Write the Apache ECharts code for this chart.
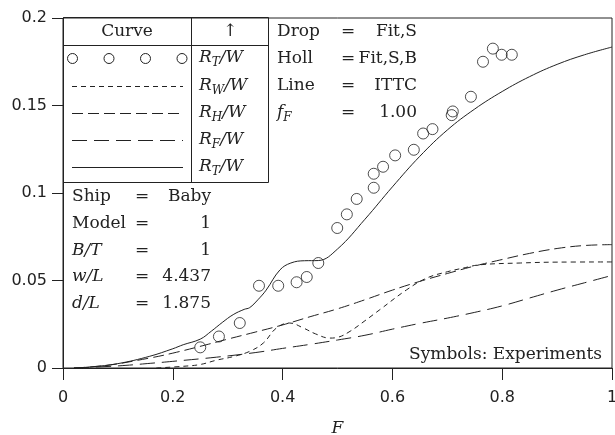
<!DOCTYPE html>
<html>
<head>
<meta charset="utf-8">
<script src="https://cdn.jsdelivr.net/npm/echarts@6/dist/echarts.min.js"></script>
<style>
    html, body { margin: 0; padding: 0; background: #fff; }
    #chart { width: 615px; height: 435px; }
</style>
</head>
<body>
<div id="chart"></div>
<script>
// experiments (circles)
const expF = [0.250, 0.284, 0.322, 0.357, 0.392, 0.4255, 0.444, 0.465, 0.4995, 0.517, 0.535,
    0.566, 0.566, 0.583, 0.605, 0.639, 0.656, 0.673, 0.708, 0.710, 0.743, 0.765, 0.783, 0.799, 0.8175];
const expR = [0.0118, 0.018, 0.0257, 0.047, 0.047, 0.049, 0.052, 0.060, 0.080, 0.0878, 0.0966,
    0.103, 0.111, 0.115, 0.1215, 0.1247, 0.134, 0.1365, 0.1445, 0.1466, 0.155, 0.175, 0.1825, 0.179, 0.179];

// R_T/W computed (solid)
const rtF = [0.02, 0.05, 0.1, 0.158, 0.2, 0.219, 0.25, 0.27, 0.29, 0.31, 0.33, 0.34, 0.355, 0.37, 0.395,
    0.415, 0.44, 0.465, 0.5, 0.55, 0.6, 0.65, 0.7, 0.75, 0.8, 0.85, 0.9, 0.95, 1.0];
const rtR = [0, 0.0006, 0.0025, 0.0067, 0.011, 0.0133, 0.0165, 0.021, 0.026, 0.0305, 0.0335, 0.0345, 0.039, 0.0445, 0.056,
    0.060, 0.0613, 0.0614, 0.068, 0.085, 0.1035, 0.121, 0.136, 0.148, 0.158, 0.1665, 0.1735, 0.179, 0.1834];

// R_W/W (short dashes)
const rwF = [0.17, 0.22, 0.25, 0.28, 0.31, 0.34, 0.365, 0.389, 0.413, 0.4375, 0.46, 0.486, 0.5, 0.523,
    0.55, 0.577, 0.626, 0.6625, 0.7, 0.729, 0.76, 0.833, 0.9, 1.0];
const rwR = [0, 0.001, 0.002, 0.0045, 0.0065, 0.0095, 0.0143, 0.0229, 0.0257, 0.0229, 0.0195, 0.0171, 0.0175, 0.021,
    0.027, 0.0333, 0.0447, 0.0514, 0.055, 0.0571, 0.059, 0.060, 0.0605, 0.0606];

// R_H/W (medium dashes)
const rhF = [0.02, 0.08, 0.158, 0.2, 0.249, 0.3, 0.35, 0.401, 0.45, 0.5, 0.55, 0.6, 0.65, 0.7,
    0.75, 0.8, 0.85, 0.9, 0.95, 1.0];
const rhR = [0, 0.0015, 0.0057, 0.0085, 0.0123, 0.0165, 0.0205, 0.0247, 0.0293, 0.0338, 0.039, 0.0445, 0.0495, 0.054,
    0.0583, 0.062, 0.0655, 0.0683, 0.070, 0.0705];

// R_F/W (long dashes)
const rfF = [0.02, 0.1, 0.16, 0.2, 0.28, 0.35, 0.4, 0.45, 0.5, 0.55, 0.6, 0.65, 0.7, 0.75, 0.8, 0.85, 0.9, 0.95, 1.0];
const rfR = [0, 0.0012, 0.0027, 0.0038, 0.0062, 0.0088, 0.0112, 0.0135, 0.016, 0.0187, 0.0222, 0.0255, 0.0285, 0.0318, 0.0355, 0.040, 0.0445, 0.0487, 0.0529];

const ink = '#222';
const serif = 'DejaVu Serif';
const zip = (a, b) => a.map((v, i) => [v, b[i]]);

const rich = {
    n: { fontFamily: serif, fontSize: 17, lineHeight: 22, fill: ink },
    m: { fontFamily: serif, fontSize: 17, fontStyle: 'italic', lineHeight: 22, fill: ink },
    s: { fontFamily: serif, fontSize: 12, fontStyle: 'italic', lineHeight: 12, verticalAlign: 'bottom', fill: ink }
};

const txt = (x, y, text, align) => ({
    type: 'text', x: x, y: y, z: 100,
    style: { text: text, align: align || 'left', verticalAlign: 'middle', rich: rich, fill: ink,
        fontFamily: serif, fontSize: 17 }
});
const seg = (x1, y1, x2, y2, dash) => ({
    type: 'line', z: 100,
    shape: { x1: x1, y1: y1, x2: x2, y2: y2 },
    style: { stroke: ink, lineWidth: 1, lineDash: dash || null }
});

const dashW = [5, 4];
const dashH = [11, 5];
const dashF = [15, 7];

let graphic = [
    { type: 'rect', z: 100, shape: { x: 63.5, y: 17.5, width: 205, height: 165 },
        style: { fill: null, stroke: ink, lineWidth: 1 } },
    seg(63.5, 45.5, 268.5, 45.5),
    seg(191.5, 17.5, 191.5, 182.5),
    txt(127, 32, '{n|Curve}', 'center'),
    txt(230, 32, '{n|↑}', 'center'),
    txt(199, 58, '{m|R}{s|T}{m|/W}'),
    txt(199, 86, '{m|R}{s|W}{m|/W}'),
    txt(199, 113, '{m|R}{s|H}{m|/W}'),
    txt(199, 140, '{m|R}{s|F}{m|/W}'),
    txt(199, 167, '{m|R}{s|T}{m|/W}'),
    seg(72, 86.5, 183, 86.5, dashW),
    seg(72, 113.5, 183, 113.5, dashH),
    seg(72, 140.5, 183, 140.5, dashF),
    seg(72, 167.5, 183, 167.5),
    // right block
    txt(277, 32, '{n|Drop}'), txt(348, 32, '{n|=}', 'center'), txt(417, 32, '{n|Fit,S}', 'right'),
    txt(277, 59, '{n|Holl}'), txt(348, 59, '{n|=}', 'center'), txt(417, 59, '{n|Fit,S,B}', 'right'),
    txt(277, 86, '{n|Line}'), txt(348, 86, '{n|=}', 'center'), txt(417, 86, '{n|ITTC}', 'right'),
    txt(277, 113, '{m|f}{s|F}'), txt(348, 113, '{n|=}', 'center'), txt(417, 113, '{n|1.00}', 'right'),
    // left block
    txt(72, 197, '{n|Ship}'), txt(142, 197, '{n|=}', 'center'), txt(211, 197, '{n|Baby}', 'right'),
    txt(72, 224, '{n|Model}'), txt(142, 224, '{n|=}', 'center'), txt(211, 224, '{n|1}', 'right'),
    txt(72, 251, '{m|B/T}'), txt(142, 251, '{n|=}', 'center'), txt(211, 251, '{n|1}', 'right'),
    txt(72, 277, '{m|w/L}'), txt(142, 277, '{n|=}', 'center'), txt(211, 277, '{n|4.437}', 'right'),
    txt(72, 304, '{m|d/L}'), txt(142, 304, '{n|=}', 'center'), txt(211, 304, '{n|1.875}', 'right'),
    txt(602, 355, '{n|Symbols: Experiments}', 'right')
];
[72.5, 109, 145.5, 182].forEach(cx => graphic.push({
    type: 'circle', z: 100, shape: { cx: cx, cy: 58.5, r: 5 },
    style: { fill: null, stroke: ink, lineWidth: 1 }
}));

const lineSeries = (data, dash) => ({
    type: 'line', data: data, smooth: 0.4, showSymbol: false, symbol: 'none',
    lineStyle: { color: ink, width: 1, type: dash || 'solid' }
});

let option = {
    animation: false,
    backgroundColor: '#fff',
    grid: {
        left: 63, right: 3, top: 18, bottom: 67,
        show: true, borderColor: ink, borderWidth: 1,
        outerBoundsMode: 'none'
    },
    xAxis: {
        type: 'value', min: 0, max: 1, interval: 0.2,
        name: 'F', nameLocation: 'middle', nameGap: 52,
        nameTextStyle: { fontFamily: serif, fontStyle: 'italic', fontSize: 17, color: ink },
        axisLine: { lineStyle: { color: ink } },
        axisTick: { length: 12, lineStyle: { color: ink } },
        axisLabel: { margin: 22, fontFamily: 'DejaVu Sans', fontSize: 16, color: ink },
        splitLine: { show: false }
    },
    yAxis: {
        type: 'value', min: 0, max: 0.2, interval: 0.05,
        axisLine: { show: true, lineStyle: { color: ink } },
        axisTick: { show: true, length: 11, lineStyle: { color: ink } },
        axisLabel: { margin: 16, fontFamily: 'DejaVu Sans', fontSize: 16, color: ink },
        splitLine: { show: false }
    },
    series: [
        lineSeries(zip(rtF, rtR)),
        lineSeries(zip(rwF, rwR), dashW),
        lineSeries(zip(rhF, rhR), dashH),
        lineSeries(zip(rfF, rfR), dashF),
        {
            type: 'scatter', data: zip(expF, expR), symbol: 'circle', symbolSize: 11,
            itemStyle: { color: 'rgba(0,0,0,0)', borderColor: ink, borderWidth: 1 }
        }
    ],
    graphic: graphic
};

const myChart = echarts.init(document.getElementById('chart'));
myChart.setOption(option);
</script>
</body>
</html>
